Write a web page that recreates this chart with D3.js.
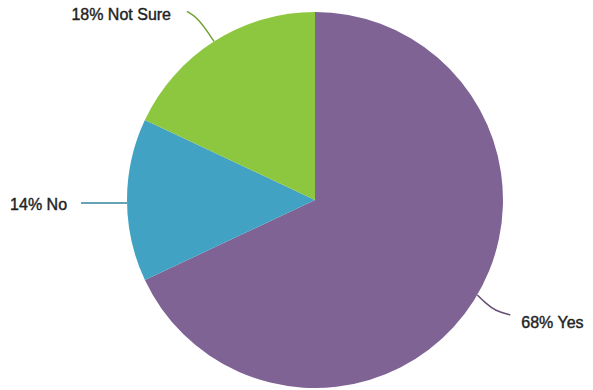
<!DOCTYPE html>
<html><head><meta charset="utf-8">
<script src="https://cdn.jsdelivr.net/npm/d3@7"></script>
<style>body{margin:0;background:#fff}svg{display:block}</style>
</head><body>
<svg id="c" width="593" height="390"></svg>
<script>
const categories = ["Yes", "No", "Not Sure"];
const values = [68, 14, 18];
const colors = ["#7e6394", "#41a2c3", "#8dc63f"];

const svg = d3.select("#c");
const cx = 315, cy = 200, r = 188;
const g = svg.append("g").attr("transform", `translate(${cx},${cy})`);
const data = categories.map((c, i) => ({cat: c, v: values[i], col: colors[i]}));
const pie = d3.pie().sort(null).value(d => d.v);
const arcs = pie(data);
const arc = d3.arc().innerRadius(0).outerRadius(r);
g.selectAll("path.s").data(arcs).join("path").attr("class", "s")
  .attr("d", arc).attr("fill", d => d.data.col);

// leader lines and labels (angle = where the leader leaves the pie)
const line = d3.line().curve(d3.curveBasis);
const leaders = {
  "Yes": {ang: 2.10, pts: [[0, 0], [8, 8], [18, 16], [33, 20]], label: [44, 33], anchor: "start"},
  "No": {ang: 4.696, pts: [[0, 0], [-25, 0], [-46, 0]], label: [-60, 7], anchor: "end"},
  "Not Sure": {ang: 5.716, pts: [[0, 0], [-8, -12], [-17, -24], [-27, -30]], label: [-43, -21], anchor: "end"}
};
arcs.forEach(a => {
  const L = leaders[a.data.cat];
  const sx = Math.sin(L.ang) * r, sy = -Math.cos(L.ang) * r;
  const pts = L.pts.map(p => [sx + p[0], sy + p[1]]);
  g.append("path").attr("d", line(pts)).attr("fill", "none")
    .attr("stroke", d3.color(a.data.col).darker(0.6)).attr("stroke-width", 1.5);
  g.append("text").attr("x", sx + L.label[0]).attr("y", sy + L.label[1])
    .attr("text-anchor", L.anchor)
    .attr("font-family", "Liberation Sans, Arial, sans-serif")
    .attr("font-size", 16).attr("fill", "#222")
    .attr("stroke", "#222").attr("stroke-width", 0.4)
    .text(`${a.data.v}% ${a.data.cat}`);
});
</script>
</body></html>
